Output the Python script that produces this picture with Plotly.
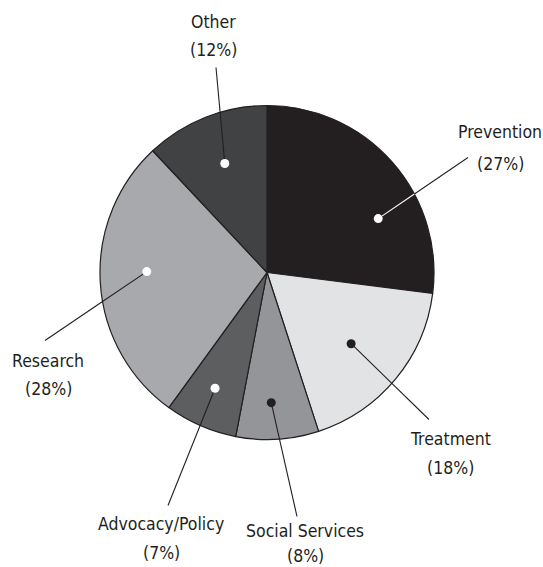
import math
import plotly.graph_objects as go

# ---- data ----
categories = ["Prevention", "Treatment", "Social Services", "Advocacy/Policy", "Research", "Other"]
shares = [27, 18, 8, 7, 28, 12]

# ---- style ----
colors = ["#231f20", "#e2e3e4", "#939598", "#5d5e60", "#a7a9ac", "#414244"]
dot_colors = ["#ffffff", "#231f20", "#231f20", "#ffffff", "#ffffff", "#ffffff"]
inner_line_colors = ["#ffffff", "#231f20", "#231f20", "#231f20", "#231f20", "#231f20"]
# dot placement within each slice: (fraction of slice angle, fraction of radius)
dot_place = [(0.66, 0.74), (0.51, 0.66), (0.56, 0.78), (0.53, 0.76), (0.54, 0.72), (0.51, 0.70)]
# leader line end offsets from pie centre (px) and label centre offsets (px)
line_end = [(201, -115), (162, 147), (30, 244), (-99, 233), (-222, 68), (-51, -205)]
label_pos = [(233, -140, -109), (183, 166, 195), (38, 258, 283), (-106, 251, 280), (-219, 88, 116), (-54, -250, -222)]

W, H = 543, 567
CX, CY, R = 267, 272.5, 167  # pie centre/radius in pixels
INK = "#231f20"
FONT = "DejaVu Sans Condensed, Liberation Sans Narrow, Arial Narrow, sans-serif"
FS = 17.5


def px(x, y):
    return x / W, 1 - y / H


fig = go.Figure()
dx0, dy0 = px(CX - R, CY + R)
dx1, dy1 = px(CX + R, CY - R)
fig.add_trace(go.Pie(
    labels=categories,
    values=shares,
    sort=False,
    direction="clockwise",
    rotation=0,
    marker=dict(colors=colors, line=dict(color=INK, width=1.2)),
    textinfo="none",
    hoverinfo="label+percent",
    domain=dict(x=[dx0, dx1], y=[dy0, dy1]),
    showlegend=False,
))

shapes = []
annotations = []
total = sum(shares)
cum = 0.0
for i, (cat, v) in enumerate(zip(categories, shares)):
    start = cum / total * 360
    span = v / total * 360
    cum += v
    fa, fr = dot_place[i]
    ang = math.radians(start + fa * span)  # clockwise from top
    p = (CX + R * fr * math.sin(ang), CY - R * fr * math.cos(ang))
    e = (CX + line_end[i][0], CY + line_end[i][1])
    # intersection with pie rim
    ux, uy = e[0] - p[0], e[1] - p[1]
    a = ux * ux + uy * uy
    b = 2 * (ux * (p[0] - CX) + uy * (p[1] - CY))
    c = (p[0] - CX) ** 2 + (p[1] - CY) ** 2 - R * R
    t = (-b + math.sqrt(b * b - 4 * a * c)) / (2 * a)
    m = (p[0] + t * ux, p[1] + t * uy)
    x0, y0 = px(*p)
    x1, y1 = px(*m)
    x2, y2 = px(*e)
    shapes.append(dict(type="line", xref="paper", yref="paper", x0=x0, y0=y0, x1=x1, y1=y1,
                       line=dict(color=inner_line_colors[i], width=1.1), layer="above"))
    shapes.append(dict(type="line", xref="paper", yref="paper", x0=x1, y0=y1, x1=x2, y1=y2,
                       line=dict(color=INK, width=1.1), layer="above"))
    r = 4.5
    a0, b0 = px(p[0] - r, p[1] + r)
    a1, b1 = px(p[0] + r, p[1] - r)
    shapes.append(dict(type="circle", xref="paper", yref="paper", x0=a0, y0=b0, x1=a1, y1=b1,
                       fillcolor=dot_colors[i], line=dict(width=0), layer="above"))
    lx, ly1, ly2 = label_pos[i]
    for txt, ly in ((cat, ly1), (f"({v}%)", ly2)):
        ax_, ay_ = px(CX + lx, CY + ly)
        annotations.append(dict(x=ax_, y=ay_, xref="paper", yref="paper", text=txt, showarrow=False,
                                xanchor="center", yanchor="middle",
                                font=dict(family=FONT, size=FS, color=INK)))

fig.update_layout(
    width=W, height=H,
    margin=dict(l=0, r=0, t=0, b=0),
    paper_bgcolor="white", plot_bgcolor="white",
    shapes=shapes, annotations=annotations,
)
fig.write_html(
    "out.html",
    config={"displayModeBar": False},
    post_script="document.body.style.margin='0px';document.body.style.overflow='hidden';",
)
